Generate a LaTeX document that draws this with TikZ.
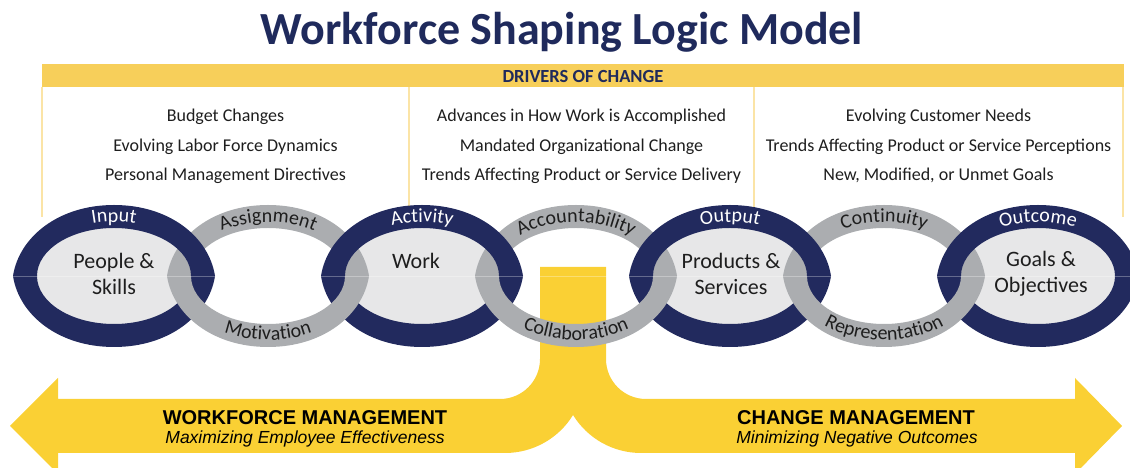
\documentclass[tikz,border=0pt]{standalone}
\usepackage{fontspec}
\setmainfont{Carlito}
\newfontfamily\arialfont{Liberation Sans}
\usetikzlibrary{decorations.text}
\definecolor{ringnavy}{HTML}{222A5E}
\definecolor{titlenavy}{HTML}{1F2A5C}
\definecolor{linkgray}{HTML}{ABADB0}
\definecolor{innerfill}{HTML}{E7E7E8}
\definecolor{banner}{HTML}{F7CF5A}
\definecolor{arrowyel}{HTML}{FAD034}
\definecolor{boxline}{HTML}{FBE4A6}
\definecolor{ink}{HTML}{1E1E1E}
\newcommand{\upband}[2]{\fill[#2] ({#1-101},192) .. controls ({#1-95},231) and ({#1-55.5},263) .. (#1,263) .. controls ({#1+55.5},263) and ({#1+95},231) .. ({#1+101},192) -- ({#1+77},192) arc[start angle=0,end angle=180,x radius=77pt,y radius=48pt] -- cycle;}
\newcommand{\lowband}[2]{\fill[#2] ({#1-101},192) .. controls ({#1-95},153) and ({#1-55.5},121) .. (#1,121) .. controls ({#1+55.5},121) and ({#1+95},153) .. ({#1+101},192) -- ({#1+77},192) arc[start angle=360,end angle=180,x radius=77pt,y radius=48pt] -- cycle;}
\newcommand{\toplabel}[3]{\path[decorate,decoration={text along path,text align=center,text color=#3,text={|\fontsize{20}{23}\selectfont|#2}}] ({#1+83*cos(165)},{192+54*sin(165)}) arc[start angle=165,end angle=15,x radius=83pt,y radius=54pt];}
\newcommand{\botlabel}[3]{\path[decorate,decoration={text along path,text align=center,text color=#3,text={|\fontsize{20}{23}\selectfont|#2}}] ({#1+94*cos(195)},{192+64*sin(195)}) arc[start angle=195,end angle=345,x radius=94pt,y radius=64pt];}
\tikzset{
  drivertext/.style={font=\fontsize{18}{21}\selectfont, text=ink, anchor=base, inner sep=0pt},
  chaintext/.style={font=\fontsize{22}{26}\selectfont, text=ink, align=center, inner sep=0pt},
  mgmttitle/.style={font=\arialfont\bfseries\fontsize{20}{24}\selectfont, text=black, anchor=base, inner sep=0pt},
  mgmtsub/.style={font=\arialfont\itshape\fontsize{17.5}{21}\selectfont, text=black, anchor=base, inner sep=0pt},
  boxrule/.style={draw=boxline, line width=1.6pt}
}
\begin{document}
\begin{tikzpicture}[x=1pt,y=1pt]
\useasboundingbox (0,0) rectangle (1130,468);
\clip (0,0) rectangle (1130,468);
% title
\node[font=\bfseries\fontsize{46}{55}\selectfont, text=titlenavy, anchor=base, inner sep=0pt] (title) at (562,423) {Workforce Shaping Logic Model};
% drivers box
\draw[boxrule] (42,381) -- (42,251);
\draw[boxrule] (409,381) -- (409,251);
\draw[boxrule] (754,381) -- (754,251);
\draw[boxrule] (1123,381) -- (1123,251);
\fill[banner] (42,381) rectangle (1124,404);
\node[font=\bfseries\fontsize{18.5}{22}\selectfont, text=titlenavy, anchor=base, inner sep=0pt] (drivers) at (583,385.5) {DRIVERS OF CHANGE};
\node[drivertext] (d11) at (225.5,346) {Budget Changes};
\node[drivertext] (d12) at (225.5,316.5) {Evolving Labor Force Dynamics};
\node[drivertext] (d13) at (225.5,287) {Personal Management Directives};
\node[drivertext] (d21) at (581.5,346) {Advances in How Work is Accomplished};
\node[drivertext] (d22) at (581.5,316.5) {Mandated Organizational Change};
\node[drivertext] (d23) at (581.5,287) {Trends Affecting Product or Service Delivery};
\node[drivertext] (d31) at (938.5,346) {Evolving Customer Needs};
\node[drivertext] (d32) at (938.5,316.5) {Trends Affecting Product or Service Perceptions};
\node[drivertext] (d33) at (938.5,287) {New, Modified, or Unmet Goals};
% yellow arrows
\fill[arrowyel] (10,42) -- (58,90) -- (58,69) -- (500,69) arc[start angle=-90,end angle=0,radius=40pt] -- (540,201) -- (606,201) -- (606,109) arc[start angle=180,end angle=270,radius=40pt] -- (1075,69) -- (1075,90) -- (1122,42) -- (1075,-6) -- (1075,15) -- (641,15) arc[start angle=-90,end angle=-148.4,radius=79.8pt] arc[start angle=-31.6,end angle=-90,radius=79.8pt] -- (58,15) -- (58,-6) -- cycle;
% chain: inner fills
\foreach \c in {114,422,730,1038}{\fill[innerfill] (\c,192) ellipse[x radius=78pt,y radius=49pt];}
% lower halves: navy under gray
\foreach \c in {114,422,730,1038}{\lowband{\c}{ringnavy}}
\foreach \c in {268,576,884}{\lowband{\c}{linkgray}}
% upper halves: gray under navy
\foreach \c in {268,576,884}{\upband{\c}{linkgray}}
\foreach \c in {114,422,730,1038}{\upband{\c}{ringnavy}}
\draw[white, opacity=0.3, line width=0.7pt] (13,192) -- (1130,192);
% labels on links
\toplabel{114}{Input}{white}
\toplabel{422}{Activity}{white}
\toplabel{730}{Output}{white}
\toplabel{1038}{Outcome}{white}
\toplabel{268}{Assignment}{ink}
\toplabel{576}{Accountability}{ink}
\toplabel{884}{Continuity}{ink}
\botlabel{268}{Motivation}{ink}
\botlabel{576}{Collaboration}{ink}
\botlabel{884}{Representation}{ink}
% chain texts
\node[chaintext] (people) at (114,194) {People \&\\Skills};
\node[chaintext] (work) at (416,207) {Work};
\node[chaintext] (products) at (731,194) {Products \&\\Services};
\node[chaintext] (goals) at (1041,194) {Goals \&\\Objectives};
% management texts
\node[mgmttitle] (wm) at (305,43) {WORKFORCE MANAGEMENT};
\node[mgmtsub] (wms) at (305,24) {Maximizing Employee Effectiveness};
\node[mgmttitle] (cm) at (856,43) {CHANGE MANAGEMENT};
\node[mgmtsub] (cms) at (857,24) {Minimizing Negative Outcomes};
\end{tikzpicture}
\end{document}
